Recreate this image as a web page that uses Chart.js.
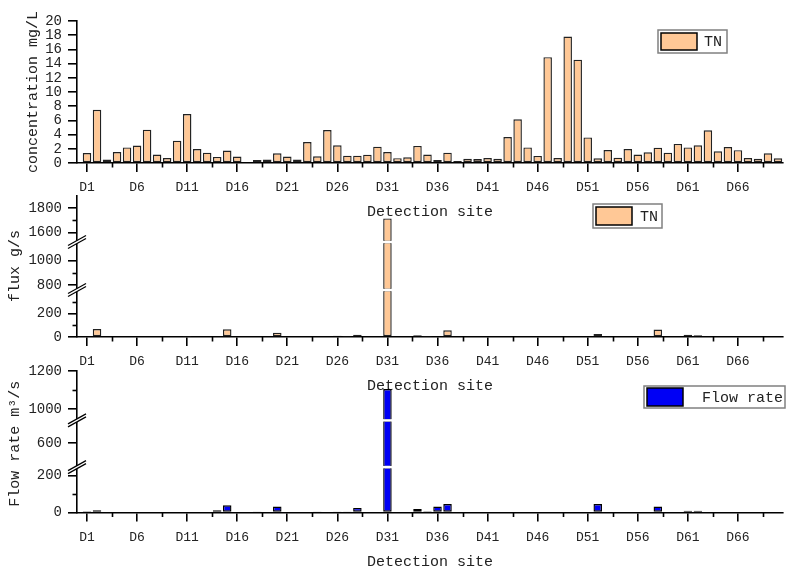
<!DOCTYPE html>
<html>
<head>
<meta charset="utf-8">
<script src="https://cdn.jsdelivr.net/npm/chart.js@4.4.1/dist/chart.umd.min.js"></script>
<style>
body { margin: 0; background: #fff; }
#wrap { position: relative; width: 789px; height: 570px; }
#wrap canvas { position: absolute; left: 0; top: 0; }
</style>
</head>
<body>
<div id="wrap">
<canvas id="tnChart" width="789" height="570"></canvas>
<canvas id="fluxChart" width="789" height="570"></canvas>
<canvas id="flowChart" width="789" height="570"></canvas>
</div>
<script>
// detection sites D1..D70
var sites = [];
for (var i = 1; i <= 70; i++) sites.push('D' + i);
var siteTicks = ['D1', 'D6', 'D11', 'D16', 'D21', 'D26', 'D31', 'D36', 'D41', 'D46', 'D51', 'D56', 'D61', 'D66'];
var siteMinor = [3.5, 8.5, 13.5, 18.5, 23.5, 28.5, 33.5, 38.5, 43.5, 48.5, 53.5, 58.5, 63.5, 68.5];

// TN concentration mg/L
var tn = [1.4, 7.5, 0.5, 1.55, 2.2, 2.45, 4.7, 1.2, 0.7, 3.15,
    6.9, 1.97, 1.45, 0.85, 1.75, 0.9, 0, 0.42, 0.5, 1.36,
    0.9, 0.5, 2.96, 0.94, 4.65, 2.5, 1.03, 1.03, 1.17, 2.3,
    1.55, 0.68, 0.8, 2.4, 1.2, 0.42, 1.45, 0.28, 0.6, 0.56,
    0.7, 0.6, 3.66, 6.15, 2.2, 1.0, 14.9, 0.7, 17.8, 14.55,
    3.6, 0.66, 1.83, 0.75, 1.97, 1.2, 1.5, 2.16, 1.45, 2.68,
    2.2, 2.5, 4.6, 1.64, 2.25, 1.8, 0.7, 0.6, 1.36, 0.66];

// TN flux g/s
var flux = [5, 68, 0, 0, 0, 0, 0, 0, 0, 0,
    2, 0, 0, 8, 65, 0, 0, 0, 0, 37,
    0, 0, 0, 0, 0, 10, 3, 20, 0, 0,
    1715, 0, 0, 14, 3, 6, 57, 0, 0, 0,
    0, 0, 0, 0, 0, 0, 0, 0, 0, 0,
    0, 26, 0, 0, 0, 0, 0, 63, 0, 0,
    20, 14, 0, 0, 0, 0, 0, 0, 0, 0];

// flow rate m3/s
var flow = [7, 12, 0, 0, 0, 0, 0, 0, 0, 0,
    0, 0, 0, 12, 39, 0, 0, 1, 0, 32,
    0, 0, 0, 1, 0, 5, 5, 25, 0, 0,
    1105, 0, 0, 19, 7, 32, 46, 0, 0, 0,
    0, 0, 0, 0, 0, 0, 0, 0, 0, 0,
    0, 46, 0, 0, 0, 0, 0, 32, 0, 0,
    10, 9, 0, 0, 0, 0, 0, 0, 0, 0];

var tnTicks = [0, 2, 4, 6, 8, 10, 12, 14, 16, 18, 20];
var fluxTicksLow = [0, 200], fluxTicksMid = [800, 1000], fluxTicksHigh = [1600, 1800];
var fluxMinor = [100, 300, 900, 1700];
var flowTicksLow = [0, 200], flowTicksMid = [600], flowTicksHigh = [1000, 1200];
var flowMinor = [100, 1100];

var mono = '"Liberation Mono", monospace';
var ink = '#222';
var peach = '#FFC896';

function points(values) {
    return values.map(function (v, i) { return {x: i + 1, y: v}; });
}
// piece of each bar that falls inside one segment of a broken axis
function piece(values, lo, hi) {
    return values.map(function (v, i) {
        return {x: i + 1, y: v > lo ? [lo, Math.min(v, hi)] : null};
    });
}

function xAxis(height) {
    return {
        type: 'linear', min: 0, max: 70.5, offset: false,
        afterBuildTicks: function (s) {
            s.ticks = siteTicks.map(function (n) { return {value: sites.indexOf(n) + 1}; });
        },
        afterFit: function (s) { s.height = height; },
        ticks: {autoSkip: false, maxRotation: 0, padding: 8, color: ink, font: {family: mono, size: 13},
            callback: function (v) { return sites[v - 1]; }},
        grid: {drawOnChartArea: false, offset: false, color: '#000', lineWidth: 1.6, tickLength: 9},
        border: {color: '#000', width: 1.6},
        title: {display: true, text: 'Detection site', color: ink, font: {family: mono, size: 15, lineHeight: 1}, padding: 0}
    };
}

function yAxis(min, max, ticks, extra) {
    var a = {
        type: 'linear', position: 'left', min: min, max: max, offset: false,
        afterBuildTicks: function (s) { s.ticks = ticks.map(function (v) { return {value: v}; }); },
        afterFit: function (s) { s.width = 77; },
        ticks: {autoSkip: false, padding: 6, color: ink, font: {family: mono, size: 14},
            callback: function (v) { return String(v); }},
        grid: {drawOnChartArea: false, color: '#000', lineWidth: 1.6, tickLength: 9},
        border: {color: '#000', width: 1.6},
        title: {display: false}
    };
    return Object.assign(a, extra || {});
}

function yTitle(text, pad) {
    return {display: true, text: text, color: ink, font: {family: mono, size: 15, lineHeight: 1}, padding: {top: pad, bottom: 0}};
}

var extras = {
    id: 'extras',
    afterDraw: function (chart, args, opts) {
        var ctx = chart.ctx, area = chart.chartArea, xs = chart.scales.x;
        ctx.save();
        ctx.strokeStyle = '#000';
        ctx.lineWidth = 1.6;
        siteMinor.forEach(function (v) {
            var px = Math.round(xs.getPixelForValue(v)) + 0.5;
            ctx.beginPath(); ctx.moveTo(px, xs.top); ctx.lineTo(px, xs.top + 4.5); ctx.stroke();
        });
        var ys = Object.values(chart.scales).filter(function (s) { return s.axis === 'y'; });
        (opts.yMinor || []).forEach(function (v) {
            ys.forEach(function (s) {
                if (v > s.min && v < s.max) {
                    var py = Math.round(s.getPixelForValue(v)) + 0.5;
                    ctx.beginPath(); ctx.moveTo(area.left, py); ctx.lineTo(area.left - 4.5, py); ctx.stroke();
                }
            });
        });
        // axis breaks
        ys.forEach(function (s) {
            if (s.top > area.top + 2) {
                var y = s.top, x = area.left;
                ctx.fillStyle = '#fff';
                ctx.fillRect(area.left + 1, y - 1.2, area.right - area.left - 1, 2.4);
                ctx.beginPath();
                ctx.moveTo(x - 9, y + 3.5); ctx.lineTo(x + 9, y - 6.5);
                ctx.lineTo(x + 9, y - 3.5); ctx.lineTo(x - 9, y + 6.5); ctx.closePath();
                ctx.fill();
                ctx.lineWidth = 1.2;
                ctx.beginPath(); ctx.moveTo(x - 9, y + 3.5); ctx.lineTo(x + 9, y - 6.5); ctx.stroke();
                ctx.beginPath(); ctx.moveTo(x - 9, y + 6.5); ctx.lineTo(x + 9, y - 3.5); ctx.stroke();
                ctx.lineWidth = 1.6;
            }
        });
        // legend box
        var lg = opts.legend;
        if (lg) {
            var ds = chart.data.datasets[0];
            ctx.strokeStyle = '#808080';
            ctx.lineWidth = 1.5;
            ctx.strokeRect(lg.box[0], lg.box[1], lg.box[2], lg.box[3]);
            ctx.fillStyle = ds.backgroundColor;
            ctx.fillRect(lg.swatch[0], lg.swatch[1], lg.swatch[2], lg.swatch[3]);
            ctx.strokeStyle = '#000';
            ctx.lineWidth = 1.5;
            ctx.strokeRect(lg.swatch[0], lg.swatch[1], lg.swatch[2], lg.swatch[3]);
            ctx.fillStyle = ink;
            ctx.font = '15px ' + mono;
            ctx.textBaseline = 'middle';
            ctx.fillText(ds.label, lg.textX, lg.swatch[1] + lg.swatch[3] / 2 + 1);
        }
        ctx.restore();
    }
};

var common = {
    responsive: false,
    animation: false,
    events: []
};

// concentration
new Chart(document.getElementById('tnChart'), {
    type: 'bar',
    data: {
        datasets: [{label: 'TN', data: points(tn), backgroundColor: peach, borderColor: '#222', borderWidth: 1.4,
            borderSkipped: false, barPercentage: 0.85, categoryPercentage: 1}]
    },
    options: Object.assign({}, common, {
        layout: {padding: {top: 21, right: 6, bottom: 570 - 219.5, left: 0}},
        scales: {
            x: xAxis(56.5),
            y: yAxis(0, 20, tnTicks, {title: yTitle('concentration mg/L', 25.5)})
        },
        plugins: {
            legend: {display: false}, tooltip: {enabled: false},
            extras: {legend: {box: [658, 30, 69, 23], swatch: [661, 33, 36, 17], textX: 704}}
        }
    }),
    plugins: [extras]
});

// flux, broken axis in three pieces
new Chart(document.getElementById('fluxChart'), {
    type: 'bar',
    data: {
        datasets: [
            {label: 'TN', data: piece(flux, 0, 400), yAxisID: 'yLow'},
            {label: 'TN', data: piece(flux, 760, 1150), yAxisID: 'yMid'},
            {label: 'TN', data: piece(flux, 1520, 1900), yAxisID: 'yHigh'}
        ].map(function (d) {
            return Object.assign(d, {backgroundColor: peach, borderColor: '#222', borderWidth: 1.4, borderSkipped: false,
                grouped: false, barPercentage: 0.85, categoryPercentage: 1});
        })
    },
    options: Object.assign({}, common, {
        layout: {padding: {top: 196, right: 6, bottom: 570 - 393.5, left: 0}},
        scales: {
            x: xAxis(56.5),
            yHigh: yAxis(1520, 1900, fluxTicksHigh, {stack: 'flux', stackWeight: 46, weight: 3}),
            yMid: yAxis(760, 1150, fluxTicksMid, {stack: 'flux', stackWeight: 48, weight: 2, title: yTitle('flux g/s', 7.5)}),
            yLow: yAxis(0, 400, fluxTicksLow, {stack: 'flux', stackWeight: 47, weight: 1})
        },
        plugins: {
            legend: {display: false}, tooltip: {enabled: false},
            extras: {yMinor: fluxMinor, legend: {box: [593, 204, 69, 24], swatch: [596, 207, 36, 18], textX: 640}}
        }
    }),
    plugins: [extras]
});

// flow rate, broken axis in three pieces
new Chart(document.getElementById('flowChart'), {
    type: 'bar',
    data: {
        datasets: [
            {label: 'Flow rate', data: piece(flow, 0, 247), yAxisID: 'yLow'},
            {label: 'Flow rate', data: piece(flow, 470, 720), yAxisID: 'yMid'},
            {label: 'Flow rate', data: piece(flow, 940, 1200), yAxisID: 'yHigh'}
        ].map(function (d) {
            return Object.assign(d, {backgroundColor: '#0000F5', borderColor: '#000', borderWidth: 1.4, borderSkipped: false,
                grouped: false, barPercentage: 0.85, categoryPercentage: 1});
        })
    },
    options: Object.assign({}, common, {
        layout: {padding: {top: 371, right: 6, bottom: 0, left: 0}},
        scales: {
            x: xAxis(57.5),
            yHigh: yAxis(940, 1200, flowTicksHigh, {stack: 'flow', stackWeight: 49.3, weight: 3}),
            yMid: yAxis(470, 720, flowTicksMid, {stack: 'flow', stackWeight: 46.7, weight: 2, title: yTitle('Flow rate m\u00B3/s', 7.5)}),
            yLow: yAxis(0, 247, flowTicksLow, {stack: 'flow', stackWeight: 45.3, weight: 1})
        },
        plugins: {
            legend: {display: false}, tooltip: {enabled: false},
            extras: {yMinor: flowMinor, legend: {box: [644, 386, 141, 22], swatch: [647, 388, 36, 18], textX: 702}}
        }
    }),
    plugins: [extras]
});
</script>
</body>
</html>
